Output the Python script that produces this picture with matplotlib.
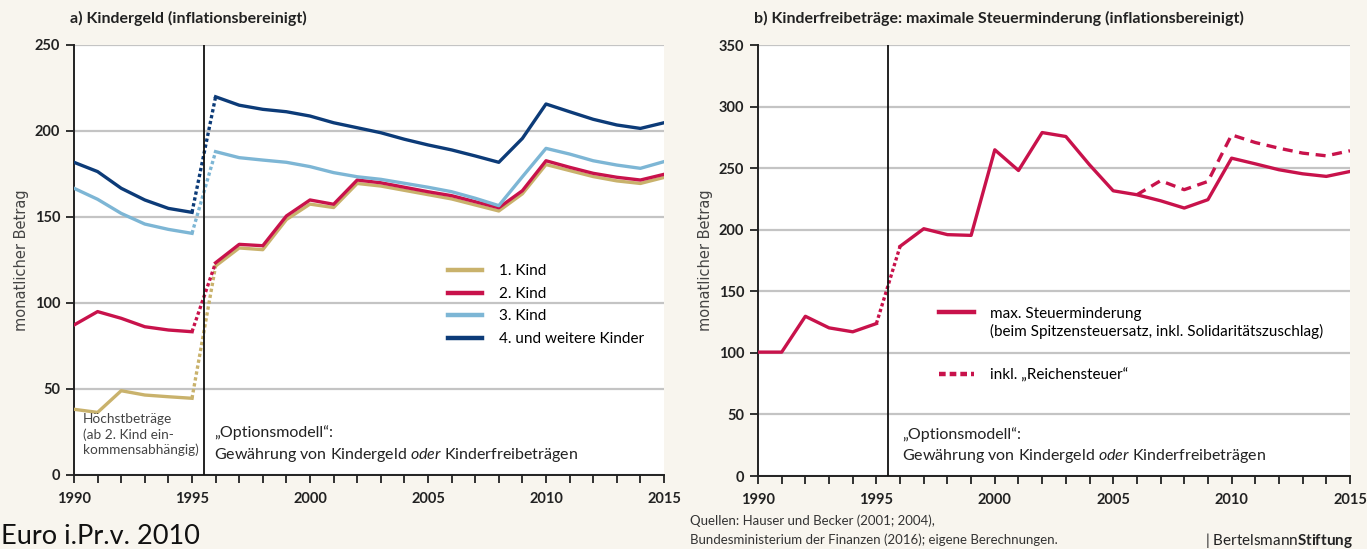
import matplotlib
matplotlib.use("Agg")
import matplotlib.pyplot as plt
from matplotlib.lines import Line2D
import numpy as np

plt.rcParams['font.family'] = ['Lato', 'DejaVu Sans']
plt.rcParams['mathtext.fontset'] = 'custom'
plt.rcParams['mathtext.it'] = 'Lato:italic'
plt.rcParams['mathtext.bf'] = 'Lato:bold'
plt.rcParams['mathtext.rm'] = 'Lato'

# ---------------- data ----------------
years_pre = [1990, 1991, 1992, 1993, 1994, 1995]
years_post = list(range(1996, 2016))

kind1_pre = [38.2, 36.4, 49.0, 46.5, 45.5, 44.6]
kind2_pre = [87.2, 95.0, 91.1, 86.2, 84.3, 83.3]
kind3_pre = [166.7, 160.3, 152.1, 145.9, 142.8, 140.5]
kind4_pre = [181.8, 176.4, 166.7, 159.9, 155.0, 152.7]

kind1_post = [121.5, 132.0, 131.0, 148.5, 157.5, 155.5, 169.5, 168.0, 165.5, 163.0,
              160.5, 157.0, 153.5, 163.5, 180.5, 177.0, 173.5, 171.0, 169.5, 173.0]
kind2_post = [123.4, 134.1, 133.3, 150.6, 159.9, 157.4, 171.5, 169.9, 167.3, 164.7,
              162.4, 158.9, 155.4, 165.3, 182.7, 178.9, 175.4, 173.1, 171.5, 174.8]
kind3_post = [188.0, 184.5, 183.1, 181.8, 179.3, 175.8, 173.4, 171.9, 169.6, 167.3,
              164.7, 160.9, 156.6, 173.4, 189.9, 186.6, 182.7, 180.2, 178.3, 182.2]
kind4_post = [219.9, 215.0, 212.6, 211.2, 208.7, 204.8, 201.9, 199.0, 195.2, 191.9,
              189.0, 185.5, 181.8, 195.7, 215.7, 211.2, 206.8, 203.5, 201.5, 204.8]

steuer_pre = [100.6, 100.6, 129.7, 120.3, 117.1, 123.8]
steuer_post = [186.5, 200.8, 196.0, 195.4, 264.9, 248.1, 278.9, 275.7, 252.7, 231.6,
               228.4, 223.5, 217.6, 224.4, 258.1, 253.5, 248.7, 245.4, 243.3, 247.3]
reich_years = list(range(2006, 2016))
reich_vals = [228.4, 239.8, 232.5, 239.2, 277.0, 270.8, 266.2, 262.2, 260.0, 264.1]

labels_left = ["1. Kind", "2. Kind", "3. Kind", "4. und weitere Kinder"]
labels_right = ["max. Steuerminderung",
                "(beim Spitzensteuersatz, inkl. Solidaritätszuschlag)",
                "inkl. „Reichensteuer“"]

# ---------------- style ----------------
BG = "#f8f5ee"
C_GOLD = "#c9b26c"
C_RED = "#c8124b"
C_LBLUE = "#7db6d5"
C_DBLUE = "#0c3b78"
GRID = "#c4c4c4"
LW = 2.4

fig = plt.figure(figsize=(13.67, 5.49), dpi=100)
fig.patch.set_facecolor(BG)

axL = fig.add_axes([74/1367, 1-475/549, (664-74)/1367, 430/549])
axR = fig.add_axes([758/1367, 1-476/549, (1350-758)/1367, 431/549])


def style_axes(ax, ymax):
    ax.set_facecolor("white")
    ax.set_xlim(1990, 2015)
    ax.set_ylim(0, ymax)
    ax.set_yticks(np.arange(0, ymax + 1, 50))
    ax.set_xticks(np.arange(1990, 2016, 5))
    ax.set_xticks(np.arange(1990, 2016, 1), minor=True)
    for s in ["top", "right"]:
        ax.spines[s].set_visible(False)
    for s in ["left", "bottom"]:
        ax.spines[s].set_color("#222222")
        ax.spines[s].set_linewidth(1.4)
    ax.grid(axis="y", color=GRID, linewidth=1.6)
    ax.set_axisbelow(True)
    ax.tick_params(axis="both", which="both", direction="out", length=6,
                   width=1.3, color="#222222", labelsize=10.5, pad=4)
    ax.tick_params(axis="x", which="major", pad=6)
    for lab in ax.get_xticklabels() + ax.get_yticklabels():
        lab.set_fontweight("bold")
        lab.set_color("#222222")
    ax.axvline(1995.5, color="#111111", linewidth=1.3, zorder=4)
    ax.set_ylabel("monatlicher Betrag", family="DejaVu Sans", fontsize=10.5,
                  color="#444444", labelpad=4)


style_axes(axL, 250)
style_axes(axR, 350)

# ---------------- left panel ----------------
series = [(kind1_pre, kind1_post, C_GOLD),
          (kind2_pre, kind2_post, C_RED),
          (kind3_pre, kind3_post, C_LBLUE),
          (kind4_pre, kind4_post, C_DBLUE)]
for pre, post, c in series:
    axL.plot(years_pre, pre, color=c, lw=LW, solid_joinstyle="round", zorder=3)
    axL.plot(years_post, post, color=c, lw=LW, solid_joinstyle="round", zorder=3)
    axL.plot([years_pre[-1], years_post[0]], [pre[-1], post[0]], color=c, lw=LW,
             linestyle=(0, (1.0, 0.8)), zorder=3)

handles = [Line2D([], [], color=c, lw=3.2) for _, _, c in series]
axL.legend(handles, labels_left, loc="upper left", bbox_to_anchor=(0.634, 0.49),
           frameon=False, fontsize=11, handlelength=2.2, handletextpad=1.15,
           labelspacing=0.56, borderpad=0, borderaxespad=0)

axL.text(1990.38, 36.0, "Höchstbeträge\n(ab 2. Kind ein-\nkommensabhängig)",
         fontsize=9.8, color="#444444", va="top", ha="left", linespacing=1.28)
axL.text(1995.95, 29.0,
         "„Optionsmodell“:\nGewährung von Kindergeld $\\mathit{oder}$ Kinderfreibeträgen",
         fontsize=11.5, color="#222222", va="top", ha="left", linespacing=1.45)

# ---------------- right panel ----------------
axR.plot(years_pre, steuer_pre, color=C_RED, lw=LW, zorder=3)
axR.plot(years_post, steuer_post, color=C_RED, lw=LW, zorder=3)
axR.plot([years_pre[-1], years_post[0]], [steuer_pre[-1], steuer_post[0]],
         color=C_RED, lw=LW, linestyle=(0, (1.0, 0.8)), zorder=3)
axR.plot(reich_years, reich_vals, color=C_RED, lw=LW, linestyle=(0, (3.0, 2.0)), zorder=3)

legA = axR.legend([Line2D([], [], color=C_RED, lw=3.2), Line2D([], [], color="none")],
                  labels_right[:2], loc="upper left", bbox_to_anchor=(0.305, 0.393),
                  frameon=False, fontsize=11, handlelength=2.3, handletextpad=1.05,
                  labelspacing=0.24, borderpad=0, borderaxespad=0)
axR.add_artist(legA)
axR.legend([Line2D([], [], color=C_RED, lw=3.2, linestyle=(0, (1.5, 0.9)))],
           labels_right[2:], loc="upper left", bbox_to_anchor=(0.305, 0.251),
           frameon=False, fontsize=11, handlelength=2.3, handletextpad=1.05,
           borderpad=0, borderaxespad=0)

axR.text(1996.1, 40.0,
         "„Optionsmodell“:\nGewährung von Kindergeld $\\mathit{oder}$ Kinderfreibeträgen",
         fontsize=11.5, color="#222222", va="top", ha="left", linespacing=1.45)

# ---------------- titles & notes ----------------
fig.text(70/1367, 1-18/549, "a) Kindergeld (inflationsbereinigt)", fontsize=11.5,
         fontweight="bold", color="#222222", va="center", ha="left")
fig.text(754/1367, 1-18/549, "b) Kinderfreibeträge: maximale Steuerminderung (inflationsbereinigt)",
         fontsize=11.5, fontweight="bold", color="#222222", va="center", ha="left")

fig.text(1/1367, 1-536/549, "Euro i.Pr.v. 2010", fontsize=19.5, color="#111111",
         va="center", ha="left")

fig.text(690/1367, 1-521/549, "Quellen: Hauser und Becker (2001; 2004),", fontsize=9.5,
         color="#333333", va="center", ha="left")
fig.text(690/1367, 1-540/549, "Bundesministerium der Finanzen (2016); eigene Berechnungen.",
         fontsize=9.5, color="#333333", va="center", ha="left")
fig.text(1205/1367, 1-540/549, "| Bertelsmann$\\mathbf{Stiftung}$", fontsize=11,
         color="#222222", va="center", ha="left")

fig.savefig("out.png", dpi=100, facecolor=BG)
